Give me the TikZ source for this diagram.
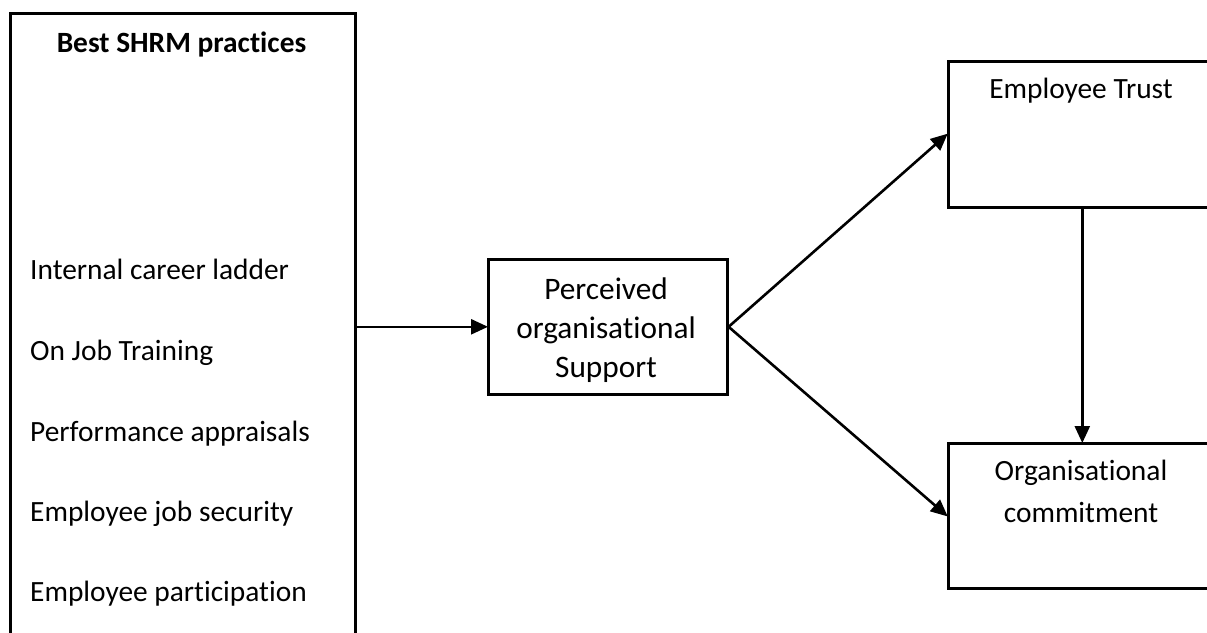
\documentclass[tikz,border=0pt]{standalone}
\usepackage{fontspec}
\setmainfont{Carlito}[Ligatures=NoCommon]
\usetikzlibrary{arrows.meta}
\begin{document}
\begin{tikzpicture}[x=1pt,y=-1pt,
  box/.style={draw=black, line width=2.6pt, anchor=north west, inner sep=0pt},
  txt/.style={font=\fontsize{29.4}{35}\selectfont, inner sep=0pt},
  midtxt/.style={font=\fontsize{31.3}{38}\selectfont, inner sep=0pt},
  arr/.style={draw=black, line width=2.6pt, -{Triangle[length=17pt,width=15pt]}, shorten >=-1pt}
]
\useasboundingbox (0,0) rectangle (1207,632);
\fill[white] (0,0) rectangle (1207,632);
\clip (0,0) rectangle (1207,632);

% boxes
\node[box, minimum width=345pt, minimum height=660pt] (lb) at (9,12) {};
\node[box, minimum width=239pt, minimum height=135pt] (pos) at (487,258) {};
\node[box, minimum width=268pt, minimum height=146pt] (trust) at (947,60) {};
\node[box, minimum width=268pt, minimum height=145pt] (commit) at (947,442) {};

% texts
\node[txt, font=\fontsize{29.4}{35}\selectfont\bfseries, anchor=base] (title) at (181.5,52) {Best SHRM practices};
\node[txt, anchor=base west] (p1) at (30,279) {Internal career ladder};
\node[txt, anchor=base west] (p2) at (30,360) {On Job Training};
\node[txt, anchor=base west] (p3) at (30,441) {Performance appraisals};
\node[txt, anchor=base west] (p4) at (30,521) {Employee job security};
\node[txt, anchor=base west] (p5) at (30,601) {Employee participation};

\node[midtxt, anchor=base] (posA) at (606,299) {Perceived};
\node[midtxt, anchor=base] (posB) at (606,338) {organisational};
\node[midtxt, anchor=base] (posC) at (606,377) {Support};

\node[txt, anchor=base] (trustT) at (1081,98) {Employee Trust};
\node[txt, anchor=base] (comA) at (1081,480) {Organisational};
\node[txt, anchor=base] (comB) at (1081,522) {commitment};

% connectors
\draw[arr] (lb.east |- pos.west) -- (pos.west);
\draw[arr] (pos.east) -- (trust.west);
\draw[arr] (pos.east) -- (commit.west);
\draw[arr] (trust.south) -- (commit.north);
\end{tikzpicture}
\end{document}
